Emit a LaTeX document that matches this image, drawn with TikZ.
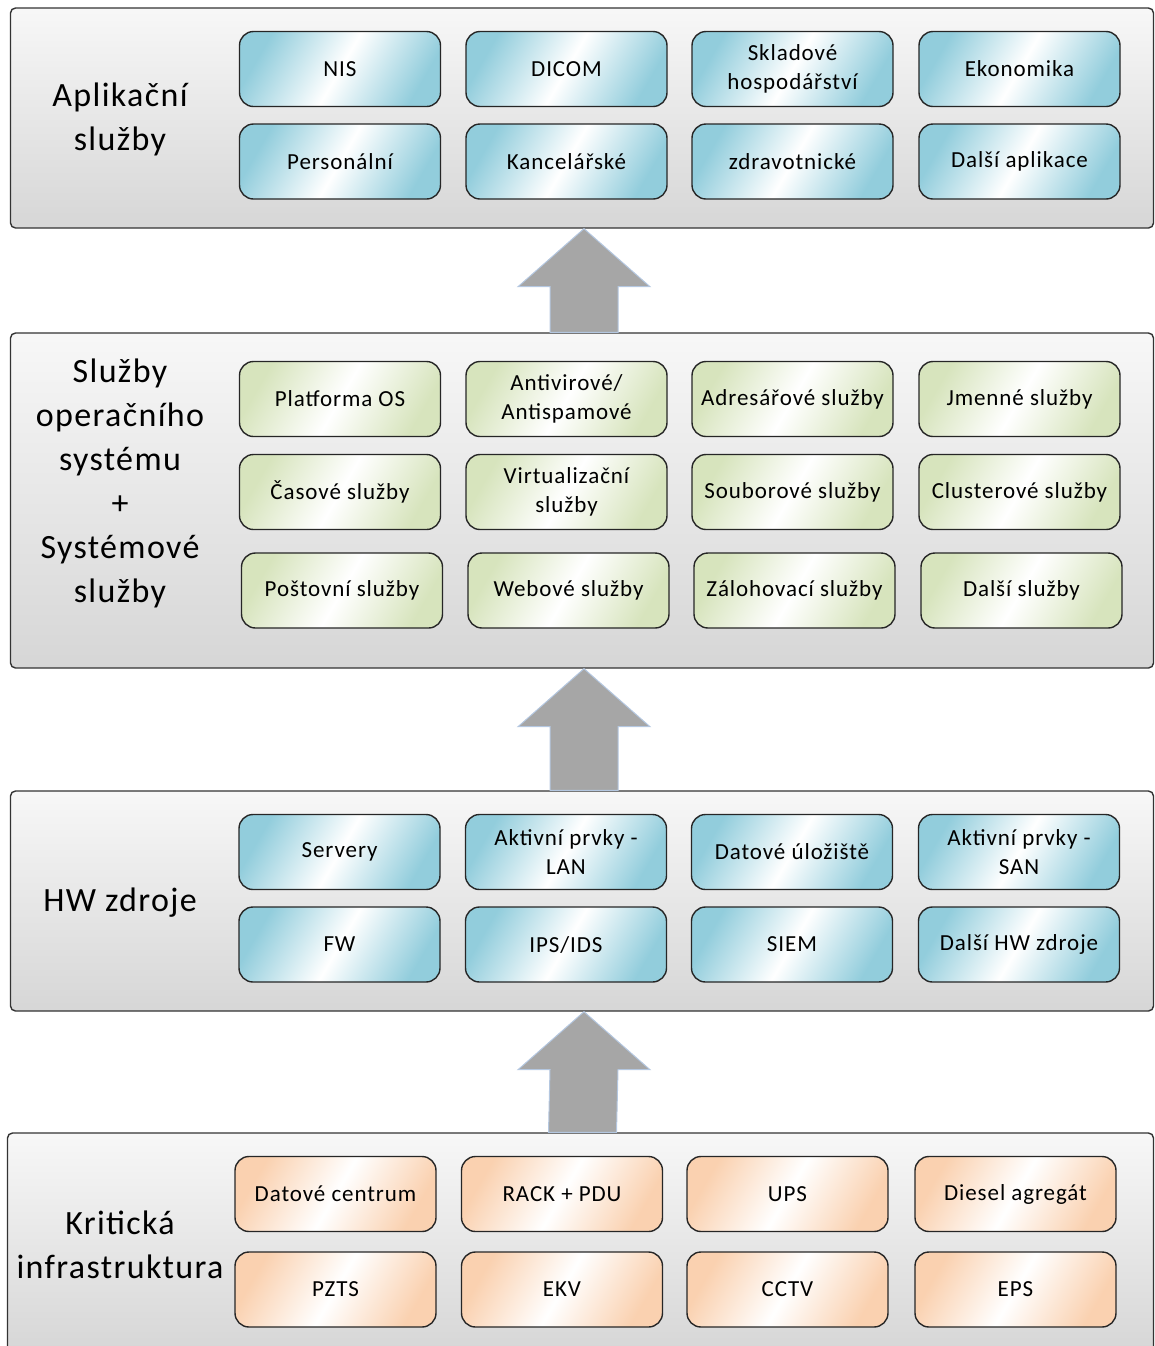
\documentclass[tikz,border=0pt]{standalone}
\usepackage{fontspec}
\setmainfont{Carlito}[LetterSpace=4]
\usepackage{xcolor}
\usepackage{tikz}
\usetikzlibrary{calc}
\definecolor{appblue}{HTML}{92CDDC}
\definecolor{osgreen}{HTML}{D7E4BD}
\definecolor{infraorange}{HTML}{FAD1B0}
\definecolor{arrowgray}{HTML}{A6A6A6}
\definecolor{arrowline}{HTML}{B4C7E0}

\begin{document}
\begin{tikzpicture}[
  x=0.5pt, y=-0.5pt,
  layer/.style={rectangle, rounded corners=2.5pt, draw=black!80, line width=0.7pt,
    top color=black!3, bottom color=black!16, minimum width=571.5pt},
  title/.style={align=center, font=\fontsize{17}{22}\selectfont},
  item/.style={rectangle, rounded corners=7pt, draw=black!85, line width=0.7pt,
    minimum width=100.5pt, minimum height=37.5pt, align=center,
    font=\fontsize{11.5}{14.5}\selectfont,
    left color=#1, right color=#1, middle color=white, shading angle=60},
  bigarrow/.style={fill=arrowgray, draw=arrowline, line width=0.5pt, line join=miter}
]
\useasboundingbox (0,0) rectangle (1155,1346);

% vrstvy
\node[layer, minimum height=110pt] (L1) at (582,118) {};
\node[layer, minimum height=167.5pt] (L2) at (582,500.5) {};
\node[layer, minimum height=110pt] (L3) at (582,901) {};
\node[layer, minimum height=110pt, minimum width=573pt] (L4) at (580.5,1243) {};

\node[title] (T1) at (120,119) {Aplikační\\služby};
\node[title] (T2) at (120,483) {Služby\\operačního\\systému\\+\\Systémové\\služby};
\node[title] (T3) at (120,903) {HW zdroje};
\node[title] (T4) at (120,1245) {Kritická\\infrastruktura};

% aplikacni sluzby
\node[item=appblue] (NIS) at (340,69) {NIS};
\node[item=appblue] (DICOM) at (566.5,69) {DICOM};
\node[item=appblue] (Sklad) at (792.5,69) {Skladové\\hospodářství};
\node[item=appblue] (Ekon) at (1019.5,69) {Ekonomika};
\node[item=appblue] (Pers) at (340,161.5) {Personální};
\node[item=appblue] (Kanc) at (566.5,161.5) {Kancelářské};
\node[item=appblue] (Zdrav) at (792.5,161.5) {zdravotnické};
\node[item=appblue] (DalsiApp) at (1019.5,161.5) {Další aplikace};

% sluzby OS
\node[item=osgreen] (OS) at (340,399) {Platforma OS};
\node[item=osgreen] (AV) at (566.5,399) {Antivirové/\\Antispamové};
\node[item=osgreen] (Adr) at (792.5,399) {Adresářové služby};
\node[item=osgreen] (Jmen) at (1019.5,399) {Jmenné služby};
\node[item=osgreen] (Cas) at (340,492) {Časové služby};
\node[item=osgreen] (Virt) at (566.5,492) {Virtualizační\\služby};
\node[item=osgreen] (Soub) at (792.5,492) {Souborové služby};
\node[item=osgreen] (Clus) at (1019.5,492) {Clusterové služby};
\node[item=osgreen] (Post) at (342,590.5) {Poštovní služby};
\node[item=osgreen] (Web) at (568.5,590.5) {Webové služby};
\node[item=osgreen] (Zal) at (794.5,590.5) {Zálohovací služby};
\node[item=osgreen] (DalsiOS) at (1021.5,590.5) {Další služby};

% HW zdroje
\node[item=appblue] (Serv) at (339.5,852) {Servery};
\node[item=appblue] (LAN) at (566,852) {Aktivní prvky -\\LAN};
\node[item=appblue] (Ulo) at (792,852) {Datové úložiště};
\node[item=appblue] (SAN) at (1019,852) {Aktivní prvky -\\SAN};
\node[item=appblue] (FW) at (339.5,944.5) {FW};
\node[item=appblue] (IPS) at (566,944.5) {IPS/IDS};
\node[item=appblue] (SIEM) at (792,944.5) {SIEM};
\node[item=appblue] (DalsiHW) at (1019,944.5) {Další HW zdroje};

% kriticka infrastruktura
\node[item=infraorange] (DC) at (335.5,1194) {Datové centrum};
\node[item=infraorange] (RACK) at (562,1194) {RACK + PDU};
\node[item=infraorange] (UPS) at (787.5,1194) {UPS};
\node[item=infraorange] (Diesel) at (1015.5,1194) {Diesel agregát};
\node[item=infraorange] (PZTS) at (335.5,1289.5) {PZTS};
\node[item=infraorange] (EKV) at (562,1289.5) {EKV};
\node[item=infraorange] (CCTV) at (787.5,1289.5) {CCTV};
\node[item=infraorange] (EPS) at (1015.5,1289.5) {EPS};

% sipky mezi vrstvami
\foreach \lo/\hi in {L2/L1, L3/L2, L4/L3} {
  \path (\hi.south) ++(2,0) coordinate (tip);
  \path (\lo.north) ++(2,0) coordinate (foot);
  \draw[bigarrow] (tip) -- ++(66,58) -- ++(-32,0) -- ($(foot)+(34,0)$)
    -- ($(foot)+(-34,0)$) -- ($(tip)+(-34,58)$) -- ++(-32,0) -- cycle;
}
\end{tikzpicture}
\end{document}
